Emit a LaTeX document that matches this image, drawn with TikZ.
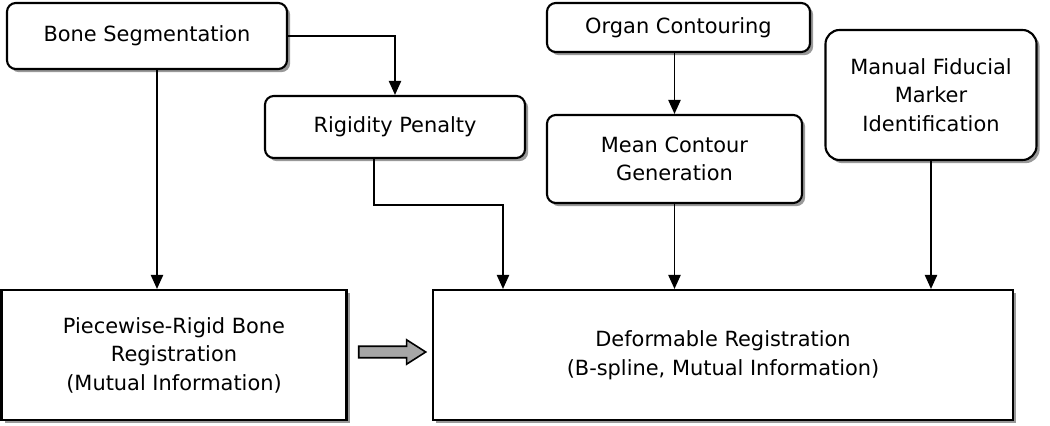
\documentclass[tikz,border=0pt]{standalone}
\usepackage{fontspec}
\setmainfont{DejaVu Sans}
\usetikzlibrary{shapes.arrows,arrows.meta,positioning,calc,shadows}
\tikzstyle{rblock}=[draw, line width=1.2pt, fill=white, rounded corners=5pt, align=center,
  drop shadow={shadow xshift=1.8pt,shadow yshift=-1.8pt,fill=black!40,opacity=1}]
\tikzstyle{block}=[rblock, rounded corners=0pt]
\tikzstyle{arrow}=[line width=0.9pt,-{Triangle[width=7pt,length=8pt]}]

\begin{document}
\begin{tikzpicture}[font=\fontsize{11.9}{16.2}\selectfont]
\useasboundingbox (0,0) rectangle (21,-8.52);
\node (bone) [rblock,minimum width=5.6cm,minimum height=1.32cm] at (2.94,-0.72) {Bone Segmentation};
\node (rigid) [rblock,minimum width=5.2cm,minimum height=1.24cm] at (7.9,-2.54) {Rigidity Penalty};
\node (organ) [rblock,minimum width=5.26cm,minimum height=0.98cm] at (13.57,-0.55) {Organ Contouring};
\node (mean) [rblock,minimum width=5.1cm,minimum height=1.76cm] at (13.49,-3.18) {Mean Contour\\Generation};
\node (manual) [rblock,rounded corners=8pt,minimum width=4.22cm,minimum height=2.6cm] at (18.62,-1.9) {Manual Fiducial\\Marker\\Identification};
\node (piece) [block,minimum width=6.9cm,minimum height=2.6cm] at (3.48,-7.1) {Piecewise-Rigid Bone\\Registration\\(Mutual Information)};
\node (deform) [block,minimum width=11.6cm,minimum height=2.6cm] at (14.46,-7.1) {Deformable Registration\\(B-spline, Mutual Information)};
\node (shift) [single arrow,draw,line width=0.9pt,fill=black!35,inner sep=2.8pt,minimum width=0.46cm,
  minimum height=1.34cm,single arrow tip angle=65,single arrow head extend=3.7pt]
  at ($(piece.east)!0.5!(deform.west)+(-0.04,0.06)$) {};
\coordinate (bend) at (10.06,-4.1);
\draw[arrow] (bone.east) -| (rigid.north);
\draw[arrow] ([xshift=0.2cm]bone.south) -- ([xshift=0.2cm]bone.south |- piece.north);
\draw[arrow] ([xshift=-0.42cm]rigid.south) |- (bend) -- (bend |- deform.north);
\draw[arrow] (mean.north |- organ.south) -- (mean.north);
\draw[arrow] (mean.south) -- (mean.south |- deform.north);
\draw[arrow] (manual.south) -- (manual.south |- deform.north);
\end{tikzpicture}
\end{document}
